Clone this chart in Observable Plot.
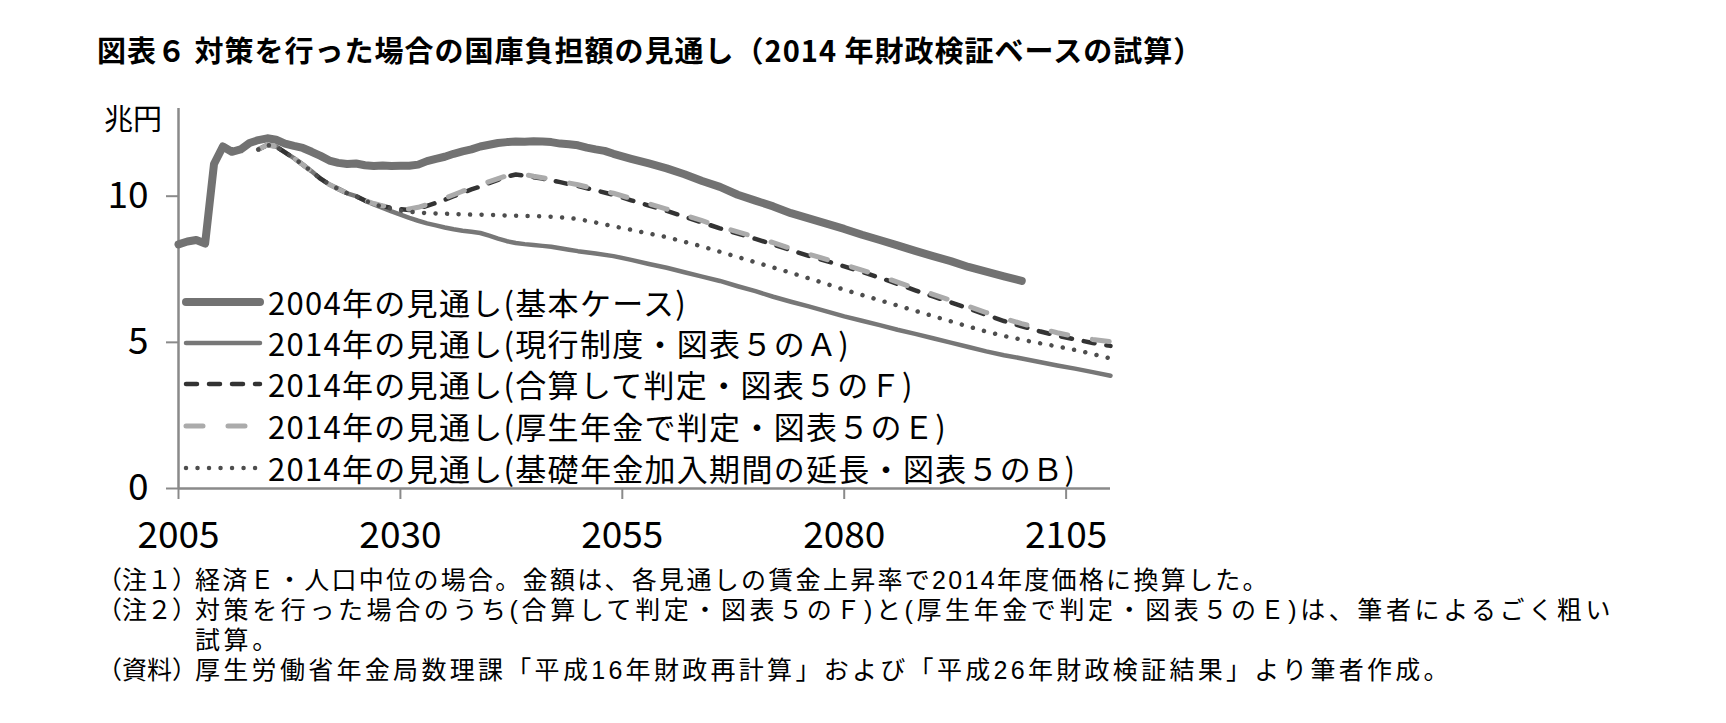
<!DOCTYPE html>
<html>
<head>
<meta charset="utf-8">
<script src="https://cdn.jsdelivr.net/npm/d3@7"></script>
<script src="https://cdn.jsdelivr.net/npm/@observablehq/plot@0.6"></script>
<style>
  html, body { margin: 0; padding: 0; background: #fff; }
  body { width: 1726px; height: 723px; position: relative; overflow: hidden; font-family: "Noto Sans CJK JP", "Noto Sans", sans-serif; color: #000; }
  #title { position: absolute; left: 97px; top: 31px; font-size: 29px; font-weight: bold; line-height: 36px; white-space: nowrap; letter-spacing: 1px; }
  #chart { position: absolute; left: 0; top: 80px; }
  #ylabel { position: absolute; left: 104px; top: 100px; font-size: 29px; line-height: 34px; }
  .leg { position: absolute; left: 182px; height: 40px; display: flex; align-items: center; white-space: nowrap; }
  .leg svg { width: 82px; height: 20px; margin-right: 4px; flex: none; }
  .leg span { font-size: 31px; line-height: 40px; letter-spacing: 1.3px; }
  #notes { position: absolute; left: 97px; top: 565px; font-size: 25px; line-height: 30px; font-family: "Liberation Sans", "Noto Sans CJK JP", sans-serif; }
  .row { display: flex; white-space: nowrap; }
  .row .lab { width: 98px; flex: none; letter-spacing: 0; }
</style>
</head>
<body>
<div id="title">図表６ 対策を行った場合の国庫負担額の見通し（2014 年財政検証ベースの試算）</div>
<div id="chart"></div>
<div id="ylabel">兆円</div>
<div id="legend"></div>
<div id="notes">
  <div class="row"><span class="lab">（注１）</span><span style="letter-spacing:2.3px">経済Ｅ・人口中位の場合。金額は、各見通しの賃金上昇率で2014年度価格に換算した。</span></div>
  <div class="row"><span class="lab">（注２）</span><span style="letter-spacing:3.6px">対策を行った場合のうち(合算して判定・図表５のＦ)と(厚生年金で判定・図表５のＥ)は、筆者によるごく粗い<br>試算。</span></div>
  <div class="row"><span class="lab">（資料）</span><span style="letter-spacing:3.3px">厚生労働省年金局数理課「平成16年財政再計算」および「平成26年財政検証結果」より筆者作成。</span></div>
</div>
<script>
// ---- data ----
const seriesNames = [
  "2004年の見通し(基本ケース)",
  "2014年の見通し(現行制度・図表５のＡ)",
  "2014年の見通し(合算して判定・図表５のＦ)",
  "2014年の見通し(厚生年金で判定・図表５のＥ)",
  "2014年の見通し(基礎年金加入期間の延長・図表５のＢ)"
];

const years2004 = [2005,2006,2007,2008,2009,2010,2011,2012,2013,2014,2015,2016,2017,2018,2019,2020,2021,2022,2023,2024,2025,2026,2027,2028,2029,2030,2031,2032,2033,2034,2035,2036,2037,2038,2039,2040,2041,2042,2043,2044,2045,2046,2047,2048,2049,2050,2051,2052,2053,2054,2056,2058,2060,2062,2064,2066,2068,2070,2072,2074,2076,2078,2080,2082,2084,2086,2088,2090,2092,2094,2096,2098,2100];
const values2004 = [8.35,8.45,8.5,8.38,11.1,11.7,11.52,11.6,11.82,11.92,11.98,11.93,11.8,11.72,11.65,11.52,11.38,11.22,11.14,11.1,11.12,11.06,11.03,11.05,11.03,11.04,11.04,11.08,11.2,11.28,11.35,11.45,11.53,11.6,11.7,11.76,11.82,11.85,11.87,11.86,11.88,11.87,11.85,11.8,11.78,11.74,11.66,11.6,11.55,11.45,11.28,11.12,10.95,10.75,10.52,10.32,10.05,9.85,9.65,9.42,9.24,9.06,8.88,8.68,8.5,8.32,8.13,7.95,7.78,7.58,7.42,7.26,7.1];

const years2014 = [2014,2015,2016,2017,2018,2019,2020,2021,2022,2023,2024,2025,2026,2027,2028,2029,2030,2031,2032,2033,2034,2035,2036,2037,2038,2039,2040,2041,2042,2043,2044,2045,2046,2047,2048,2049,2050,2052,2054,2056,2058,2060,2062,2064,2066,2068,2070,2072,2074,2076,2078,2080,2082,2084,2086,2088,2090,2092,2094,2096,2098,2100,2102,2104,2106,2108,2110];
const valuesA = [11.6,11.75,11.7,11.5,11.3,11.08,10.85,10.6,10.4,10.25,10.1,10.0,9.85,9.72,9.6,9.48,9.37,9.26,9.16,9.07,9.0,8.93,8.87,8.82,8.78,8.74,8.65,8.55,8.46,8.4,8.36,8.33,8.3,8.27,8.22,8.17,8.12,8.04,7.95,7.82,7.68,7.55,7.4,7.25,7.1,6.92,6.75,6.56,6.39,6.23,6.06,5.89,5.74,5.59,5.43,5.29,5.14,4.99,4.84,4.69,4.56,4.45,4.33,4.21,4.1,3.98,3.86];
const valuesF = [11.6,11.75,11.7,11.5,11.3,11.08,10.85,10.6,10.4,10.25,10.1,10.0,9.85,9.74,9.66,9.6,9.56,9.53,9.58,9.67,9.77,9.88,10.0,10.12,10.23,10.33,10.45,10.56,10.67,10.74,10.7,10.65,10.6,10.54,10.48,10.41,10.35,10.2,10.05,9.86,9.68,9.5,9.3,9.1,8.9,8.72,8.54,8.35,8.15,7.96,7.78,7.6,7.41,7.21,7.0,6.78,6.57,6.37,6.16,5.94,5.73,5.55,5.38,5.23,5.1,4.98,4.88];
const valuesE = [11.6,11.75,11.7,11.5,11.3,11.08,10.85,10.6,10.4,10.25,10.1,10.0,9.85,9.75,9.67,9.61,9.58,9.56,9.62,9.71,9.82,9.93,10.05,10.17,10.28,10.39,10.5,10.6,10.7,10.78,10.74,10.68,10.63,10.57,10.51,10.45,10.39,10.25,10.1,9.92,9.74,9.56,9.36,9.16,8.96,8.78,8.6,8.41,8.21,8.02,7.84,7.66,7.47,7.27,7.06,6.85,6.64,6.44,6.23,6.02,5.82,5.64,5.48,5.33,5.2,5.1,5.02];
const valuesB = [11.6,11.75,11.7,11.5,11.3,11.08,10.85,10.6,10.4,10.25,10.1,10.0,9.85,9.73,9.64,9.57,9.51,9.47,9.44,9.42,9.41,9.4,9.39,9.38,9.37,9.37,9.36,9.35,9.34,9.33,9.32,9.32,9.31,9.3,9.28,9.25,9.22,9.1,8.97,8.85,8.72,8.6,8.44,8.28,8.1,7.92,7.74,7.56,7.38,7.19,7.0,6.8,6.62,6.44,6.26,6.08,5.9,5.72,5.54,5.37,5.22,5.09,4.97,4.86,4.74,4.6,4.45];

const xTicks = [2005, 2030, 2055, 2080, 2105];
const yTicks = [0, 5, 10];

// ---- styles ----
const styles = [
  {stroke: "#727272", strokeWidth: 8, dash: null},
  {stroke: "#777777", strokeWidth: 4.5, dash: null},
  {stroke: "#333333", strokeWidth: 4.5, dash: "11,12"},
  {stroke: "#ababab", strokeWidth: 5, dash: "17,25"},
  {stroke: "#4d4d4d", strokeWidth: 4.5, dash: "0.01,11.5"}
];

const tables = [
  years2004.map((x, i) => ({x, y: values2004[i]})),
  years2014.map((x, i) => ({x, y: valuesA[i]})),
  years2014.map((x, i) => ({x, y: valuesF[i]})),
  years2014.map((x, i) => ({x, y: valuesE[i]})),
  years2014.map((x, i) => ({x, y: valuesB[i]}))
];

const lineMarks = tables.map((t, i) => Plot.line(t, {
  x: "x", y: "y",
  stroke: styles[i].stroke,
  strokeWidth: styles[i].strokeWidth,
  strokeDasharray: styles[i].dash,
  strokeLinecap: "round",
  strokeLinejoin: "round"
}));

const plot = Plot.plot({
  width: 1200,
  height: 490,
  marginLeft: 178,
  marginRight: 90,
  marginTop: 28,
  marginBottom: 82,
  style: {fontFamily: "'Noto Sans CJK JP', 'Noto Sans', sans-serif", background: "transparent", overflow: "visible"},
  x: {domain: [2005, 2110]},
  y: {domain: [0, 13]},
  marks: [
    Plot.axisX({ticks: xTicks, tickFormat: d => String(d), tickSize: 11, tickPadding: 22, fontSize: 37, stroke: "#8a8a8a", strokeWidth: 2, fill: "#000", label: null}),
    Plot.axisY({ticks: yTicks, tickSize: 12, tickPadding: 18, fontSize: 37, stroke: "#8a8a8a", strokeWidth: 2, fill: "#000", label: null}),
    Plot.ruleY([0], {stroke: "#8a8a8a", strokeWidth: 2.5}),
    Plot.ruleX([2005], {stroke: "#8a8a8a", strokeWidth: 2.5}),
    ...lineMarks
  ]
});
document.getElementById("chart").appendChild(plot);

// ---- legend ----
const legendTops = [282, 323, 364, 406, 448];
const legend = document.getElementById("legend");
seriesNames.forEach((name, i) => {
  const s = styles[i];
  const div = document.createElement("div");
  div.className = "leg";
  div.style.top = legendTops[i] + "px";
  div.innerHTML = `<svg viewBox="0 0 82 20"><line x1="4" y1="10" x2="78" y2="10" stroke="${s.stroke}" stroke-width="${s.strokeWidth}" stroke-linecap="round" ${s.dash ? `stroke-dasharray="${s.dash}"` : ""}/></svg><span>${name}</span>`;
  legend.appendChild(div);
});
</script>
</body>
</html>
